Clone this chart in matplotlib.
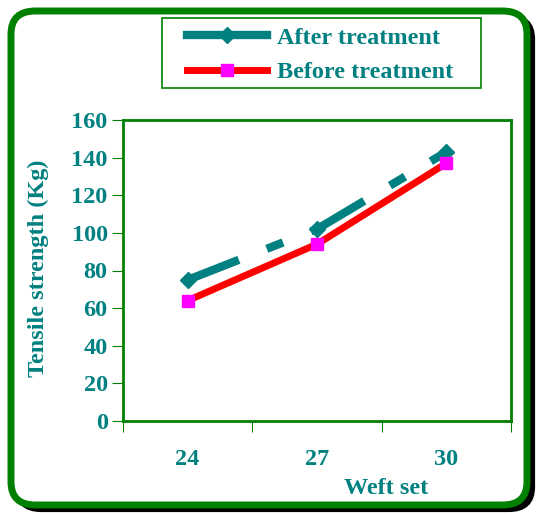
import matplotlib
matplotlib.use("Agg")
import matplotlib.pyplot as plt
from matplotlib.patches import FancyBboxPatch, Rectangle
from matplotlib.lines import Line2D

weft = ["24", "27", "30"]
after = [75, 102, 143]
before = [64, 94, 137]

teal = "#008080"
green = "#008000"
fs = 17.5

plt.rcParams['font.family'] = ['Liberation Serif', 'DejaVu Serif']
plt.rcParams['font.weight'] = 'bold'

fig = plt.figure(figsize=(5.4, 5.14), dpi=100)
W, H = 540, 514

# rounded frame with shadow
shadow = FancyBboxPatch((17 / W, 4 / H), 516 / W, 494 / H,
                        boxstyle="round,pad=0,rounding_size=0.045",
                        transform=fig.transFigure, facecolor="black",
                        edgecolor="black", linewidth=3, zorder=0)
frame = FancyBboxPatch((11 / W, 9 / H), 516 / W, 494 / H,
                       boxstyle="round,pad=0,rounding_size=0.045",
                       transform=fig.transFigure, facecolor="white",
                       edgecolor=green, linewidth=5, zorder=1)
legbox = Rectangle((162 / W, 1 - 88 / H), 319 / W, 70 / H,
                   transform=fig.transFigure, facecolor="white",
                   edgecolor=green, linewidth=1.2, zorder=2)
fig.patches.extend([shadow, frame, legbox])

ax = fig.add_axes([123 / W, 1 - 421 / H, 388 / W, 301 / H])
ax.set_zorder(2)
ax.patch.set_facecolor("white")
x = list(range(len(weft)))

# dash pattern restarts at every point, like the original
for i in range(len(x) - 1):
    ax.plot(x[i:i + 2], after[i:i + 2], color=teal, linewidth=6,
            dashes=(6.6, 3.6, 2.1, 3.6), dash_capstyle="butt")
ax.plot(x, after, linestyle="none", marker="D", markersize=8,
        markerfacecolor=teal, markeredgecolor=teal)
ax.plot(x, before, color="red", linewidth=5,
        marker="s", markersize=8, markerfacecolor="magenta", markeredgecolor="magenta")

ax.set_xlim(-0.5, 2.5)
ax.set_ylim(0, 160)
ax.set_yticks(range(0, 161, 20))
ax.set_xticks([-0.5, 0.5, 1.5, 2.5])
ax.set_xticklabels([])
ax.set_xticks(x, minor=True)
ax.set_xticklabels(weft, minor=True)
ax.tick_params(axis="x", which="minor", length=0, pad=20, labelsize=fs, labelcolor=teal)
ax.tick_params(axis="x", which="major", length=8, color=green, direction="out")
ax.tick_params(axis="y", length=8, color=green, labelsize=fs, labelcolor=teal, pad=3)
for s in ax.spines.values():
    s.set_color(green)
    s.set_linewidth(2)

fig.text(38 / W, 1 - 268 / H, "Tensile strength (Kg)", rotation=90,
         ha="center", va="center", fontsize=fs, color=teal, fontweight="bold")
fig.text(386 / W, 1 - 488 / H, "Weft set", ha="center", va="center",
         fontsize=fs, color=teal, fontweight="bold")

handles = [Line2D([], [], color=teal, linewidth=6, marker="D", markersize=8),
           Line2D([], [], color="red", linewidth=5, marker="s", markersize=8,
                  markerfacecolor="magenta", markeredgecolor="magenta")]
leg = fig.legend(handles, ["After treatment", "Before treatment"],
                 loc="center", bbox_to_anchor=(320 / W, 1 - 55 / H),
                 frameon=False, handlelength=3.3, handletextpad=0.4,
                 labelspacing=0.5, prop={"size": fs, "weight": "bold"},
                 borderpad=0, borderaxespad=0)
for t in leg.get_texts():
    t.set_color(teal)
leg.set_zorder(3)

fig.savefig("out.png", dpi=100)
